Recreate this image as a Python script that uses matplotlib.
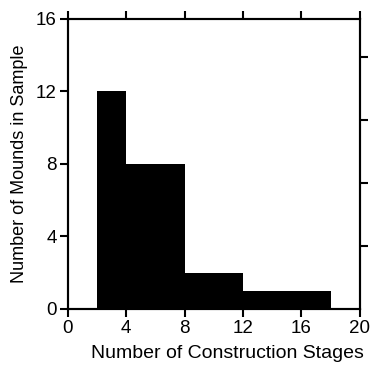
import matplotlib.pyplot as plt
import numpy as np

plt.rcParams['font.family'] = ['Liberation Sans', 'DejaVu Sans']

# histogram bins (construction stages) and counts
bin_edges = [2, 4, 8, 12, 18]
counts = [12, 8, 2, 1]

x_ticks = [0, 4, 8, 12, 16, 20]
y_ticks = [0, 4, 8, 12, 16]
right_ticks = [1, 2, 3, 4]

fig = plt.figure(figsize=(3.71, 3.70), dpi=100)
ax = fig.add_axes([0.183, 0.165, 0.787, 0.784])

ax.stairs(counts, bin_edges, fill=True, color='black', linewidth=0)

ax.set_xlim(0, 20)
ax.set_ylim(0, 16)
ax.set_xticks(x_ticks)
ax.set_yticks(y_ticks)
ax.set_xlabel('Number of Construction Stages', fontsize=14)
ax.xaxis.set_label_coords(0.545, -0.125)
ax.set_ylabel('Number of Mounds in Sample', fontsize=13, labelpad=6)

for s in ax.spines.values():
    s.set_linewidth(1.5)
ax.tick_params(axis='both', direction='out', length=6, width=1.5, labelsize=13.5, pad=2)
ax.tick_params(axis='x', top=True)

# secondary right axis with unlabeled ticks
ax2 = ax.twinx()
ax2.set_ylim(0, 4.61)
ax2.set_yticks(right_ticks)
ax2.set_yticklabels([])
ax2.tick_params(axis='y', direction='out', length=6, width=1.5)
for s in ax2.spines.values():
    s.set_linewidth(1.5)

fig.savefig('out.png', dpi=100)
